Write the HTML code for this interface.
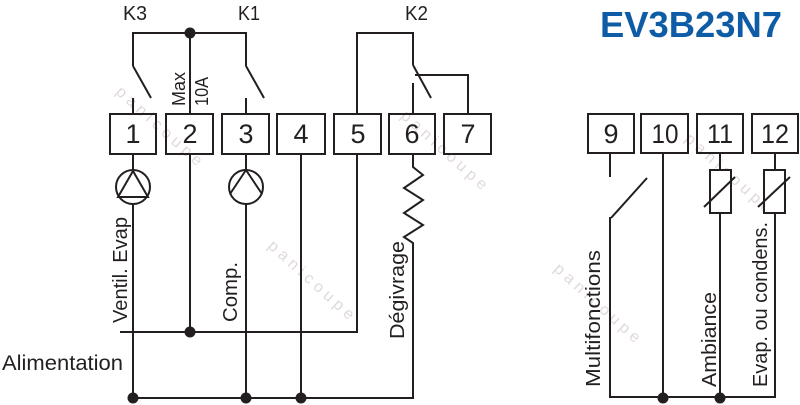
<!DOCTYPE html>
<html>
<head>
<meta charset="utf-8">
<style>
  html, body { margin: 0; padding: 0; background: #fff; }
  body { width: 800px; height: 405px; overflow: hidden; }
  svg { display: block; }
  text { font-family: "Liberation Sans", sans-serif; }
</style>
</head>
<body>
<svg width="800" height="405" viewBox="0 0 800 405" xmlns="http://www.w3.org/2000/svg">
  <rect x="0" y="0" width="800" height="405" fill="#ffffff"/>

  <!-- watermarks (only those fully inside the frame) -->
  <g font-size="16" fill="#dcd3d3" opacity="0.85">
    <text transform="translate(115,93) rotate(42)" textLength="110" lengthAdjust="spacing">panicoupe</text>
    <text transform="translate(400,117) rotate(42)" textLength="110" lengthAdjust="spacing">panicoupe</text>
    <text transform="translate(684,140) rotate(42)" textLength="110" lengthAdjust="spacing">panicoupe</text>
    <text transform="translate(267,247) rotate(42)" textLength="110" lengthAdjust="spacing">panicoupe</text>
    <text transform="translate(553,270) rotate(42)" textLength="110" lengthAdjust="spacing">panicoupe</text>
  </g>

  <!-- Title -->
  <text x="600" y="37" font-size="36" font-weight="bold" fill="#0f5ca6" textLength="182" lengthAdjust="spacingAndGlyphs">EV3B23N7</text>

  <!-- relay labels -->
  <g font-size="20" fill="#231f20">
    <text x="123" y="20" textLength="24" lengthAdjust="spacingAndGlyphs">K3</text>
    <text x="238" y="20" textLength="22" lengthAdjust="spacingAndGlyphs">K1</text>
    <text x="405" y="20" textLength="23" lengthAdjust="spacingAndGlyphs">K2</text>
  </g>

  <g stroke="#231f20" stroke-width="2" fill="none" stroke-linecap="butt">
    <!-- K3 / K1 common -->
    <polyline points="133,66 133,33 246,33 246,66"/>
    <line x1="133" y1="66" x2="151" y2="98"/>
    <line x1="133" y1="98" x2="133" y2="113"/>
    <line x1="246" y1="66" x2="264" y2="98"/>
    <line x1="246" y1="98" x2="246" y2="113"/>
    <line x1="190" y1="33" x2="190" y2="113"/>

    <!-- K2 -->
    <polyline points="357,113 357,33 413,33 413,65"/>
    <line x1="413" y1="65" x2="431" y2="98"/>
    <polyline points="415,75 468,75 468,113"/>
    <line x1="413" y1="83" x2="413" y2="113"/>

    <!-- left terminal boxes -->
    <rect x="110" y="114" width="46" height="40"/>
    <rect x="166" y="114" width="47" height="40"/>
    <rect x="222" y="114" width="47" height="40"/>
    <rect x="277" y="114" width="48" height="40"/>
    <rect x="334" y="114" width="47" height="40"/>
    <rect x="389" y="114" width="46" height="40"/>
    <rect x="444" y="114" width="47" height="40"/>

    <!-- right terminal boxes -->
    <rect x="588" y="114" width="46" height="39"/>
    <rect x="641" y="114" width="47" height="39"/>
    <rect x="697" y="114" width="46" height="39"/>
    <rect x="752" y="114" width="46" height="39"/>

    <!-- lower left wiring -->
    <line x1="133" y1="155" x2="133" y2="398"/>
    <line x1="190" y1="155" x2="190" y2="332"/>
    <line x1="246" y1="155" x2="246" y2="398"/>
    <line x1="301" y1="155" x2="301" y2="398"/>
    <line x1="357" y1="155" x2="357" y2="333"/>
    <line x1="120" y1="332" x2="358" y2="332"/>
    <line x1="128" y1="398" x2="414" y2="398"/>
    <polyline points="413,155 413,167 423,175 404,188 423,200 404,213 423,225 404,237 413,243 413,399"/>

    <!-- pumps -->
    <circle cx="133" cy="187" r="17" fill="#fff"/>
    <polygon points="133,171 118,197 148,197"/>
    <circle cx="246" cy="187" r="17" fill="#fff"/>
    <polyline points="230,194 246,170 262,194"/>

    <!-- right wiring -->
    <line x1="610" y1="154" x2="610" y2="177"/>
    <line x1="611" y1="218" x2="647" y2="178"/>
    <line x1="610" y1="217" x2="610" y2="398"/>
    <line x1="663" y1="154" x2="663" y2="398"/>
    <line x1="720" y1="154" x2="720" y2="398"/>
    <line x1="775" y1="154" x2="775" y2="398"/>
    <line x1="609" y1="397" x2="776" y2="397"/>
    <rect x="710" y="170" width="21" height="43" fill="#fff"/>
    <line x1="704" y1="207" x2="735" y2="177"/>
    <rect x="764" y="170" width="21" height="43" fill="#fff"/>
    <line x1="758" y1="207" x2="790" y2="177"/>
  </g>

  <!-- junction dots -->
  <g fill="#231f20">
    <circle cx="190" cy="33" r="5.5"/>
    <circle cx="190" cy="332" r="5.5"/>
    <circle cx="133" cy="398" r="5.5"/>
    <circle cx="246" cy="398" r="5.5"/>
    <circle cx="301" cy="398" r="5.5"/>
    <circle cx="663" cy="398" r="5.5"/>
    <circle cx="720" cy="398" r="5.5"/>
  </g>

  <!-- terminal numbers -->
  <g font-size="27" fill="#231f20" text-anchor="middle">
    <text x="133" y="143">1</text>
    <text x="190" y="143">2</text>
    <text x="246" y="143">3</text>
    <text x="301" y="143">4</text>
    <text x="358" y="143">5</text>
    <text x="412" y="143">6</text>
    <text x="468" y="143">7</text>
    <text x="611" y="143">9</text>
    <text x="665" y="143" textLength="27" lengthAdjust="spacingAndGlyphs">10</text>
    <text x="720" y="143" textLength="26" lengthAdjust="spacingAndGlyphs">11</text>
    <text x="775" y="143" textLength="28" lengthAdjust="spacingAndGlyphs">12</text>
  </g>

  <!-- rotated labels -->
  <g font-size="18" fill="#231f20">
    <text transform="translate(185,106) rotate(-90)" textLength="34" lengthAdjust="spacingAndGlyphs">Max</text>
    <text transform="translate(208,106) rotate(-90)" textLength="29" lengthAdjust="spacingAndGlyphs">10A</text>
  </g>
  <g font-size="20" fill="#231f20">
    <text transform="translate(127,323) rotate(-90)" textLength="106" lengthAdjust="spacingAndGlyphs">Ventil. Evap</text>
    <text transform="translate(237,322) rotate(-90)" textLength="60" lengthAdjust="spacingAndGlyphs">Comp.</text>
    <text transform="translate(404,339) rotate(-90)" textLength="98" lengthAdjust="spacingAndGlyphs">Dégivrage</text>
    <text transform="translate(600,387) rotate(-90)" textLength="137" lengthAdjust="spacingAndGlyphs">Multifonctions</text>
    <text transform="translate(716,387) rotate(-90)" textLength="95" lengthAdjust="spacingAndGlyphs">Ambiance</text>
    <text transform="translate(767,387) rotate(-90)" textLength="165" lengthAdjust="spacingAndGlyphs">Evap. ou condens.</text>
    <text x="2" y="370" font-size="21" textLength="121" lengthAdjust="spacingAndGlyphs">Alimentation</text>
  </g>
</svg>
</body>
</html>
